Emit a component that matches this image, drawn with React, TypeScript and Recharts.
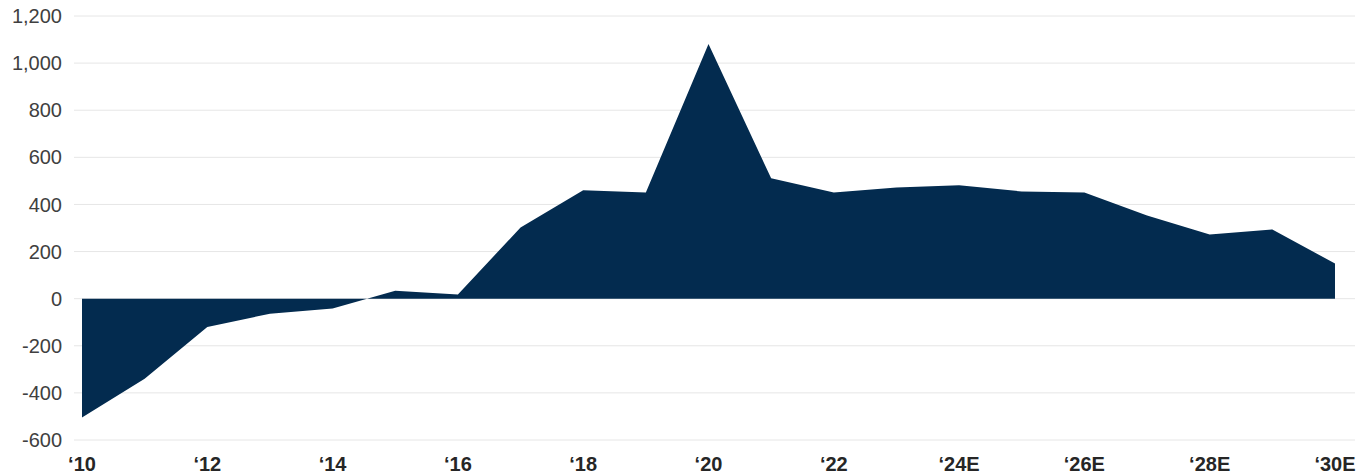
import React from "react";
import { AreaChart, Area, XAxis, YAxis, CartesianGrid } from "recharts";

const categories = [
  "‘10", "‘11", "‘12", "‘13", "‘14", "‘15", "‘16", "‘17", "‘18", "‘19", "‘20",
  "‘21", "‘22", "‘23", "‘24E", "‘25E", "‘26E", "‘27E", "‘28E", "‘29E", "‘30E",
];

const values = [
  -505, -340, -120, -64, -42, 34, 18, 302, 460, 451, 1081,
  511, 451, 472, 481, 455, 451, 353, 272, 294, 149,
];

const yTicks = [-600, -400, -200, 0, 200, 400, 600, 800, 1000, 1200];

const data = categories.map((c, i) => ({ year: c, value: values[i] }));

const fmt = (v: number) => v.toLocaleString("en-US");

export default function App() {
  return (
    <div style={{ position: "absolute", left: 0, top: 0, width: 1369, height: 476, background: "#fff" }}>
      <AreaChart
        width={1369}
        height={476}
        data={data}
        margin={{ top: 16, right: 14, bottom: 0, left: 0 }}
      >
        <CartesianGrid vertical={false} stroke="#e6e6e6" strokeWidth={1} />
        <XAxis
          dataKey="year"
          interval={1}
          axisLine={false}
          tickLine={false}
          tickSize={0}
          tickMargin={17}
          height={36}
          padding={{ left: 8, right: 20 }}
          tick={{ fill: "#262626", fontSize: 20, fontWeight: 700, fontFamily: "Liberation Sans, Arial, sans-serif" }}
        />
        <YAxis
          domain={[-600, 1200]}
          ticks={yTicks}
          interval={0}
          width={74}
          axisLine={false}
          tickLine={false}
          tickSize={0}
          tickMargin={12}
          tickFormatter={fmt}
          tick={{ fill: "#404040", fontSize: 20, fontFamily: "Liberation Sans, Arial, sans-serif" }}
        />
        <Area
          type="linear"
          dataKey="value"
          baseValue={0}
          stroke="none"
          fill="#032b4f"
          fillOpacity={1}
          isAnimationActive={false}
          dot={false}
          activeDot={false}
        />
      </AreaChart>
    </div>
  );
}
